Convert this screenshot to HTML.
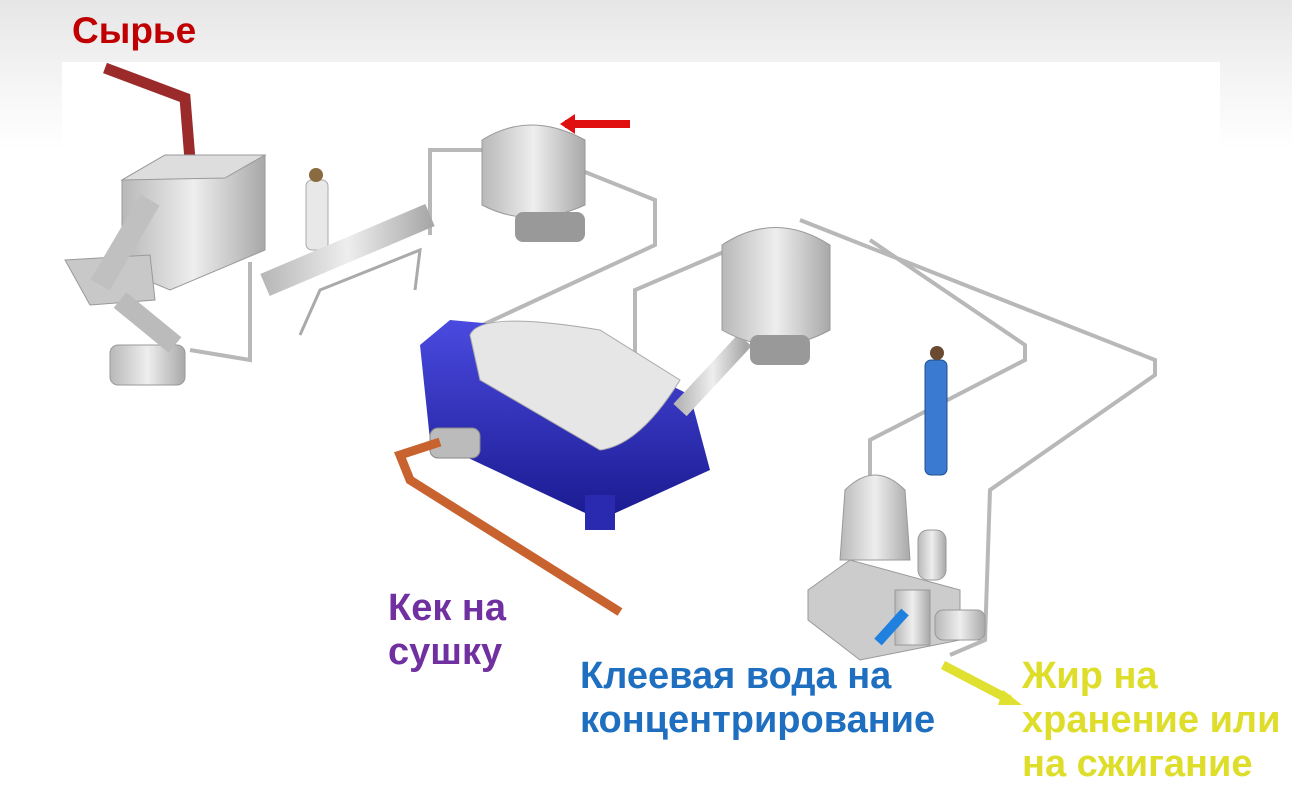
<!DOCTYPE html>
<html><head><meta charset="utf-8"><style>
html,body{margin:0;padding:0;}
body{width:1292px;height:772px;overflow:hidden;position:relative;background:#fff;font-family:"Liberation Sans",sans-serif;}
.bg{position:absolute;left:0;top:0;width:1292px;height:150px;background:linear-gradient(#e6e6e6,#f6f6f6 60%,#fff);}
.t{position:absolute;font-weight:bold;font-size:38px;line-height:44px;white-space:nowrap;}
</style></head><body>
<div class="bg"></div>
<svg style="position:absolute;left:0;top:0" width="1292" height="772">
<defs>
<linearGradient id="m" x1="0" x2="1"><stop offset="0" stop-color="#b8b8b8"/><stop offset=".5" stop-color="#eeeeee"/><stop offset="1" stop-color="#a8a8a8"/></linearGradient>
<linearGradient id="b" x1="0" y1="0" x2="0" y2="1"><stop offset="0" stop-color="#4a4ae0"/><stop offset="1" stop-color="#1a1a90"/></linearGradient>
</defs>
<rect x="62" y="62" width="1158" height="710" fill="#fff"/>
<g fill="none" stroke="#b8b8b8" stroke-width="4">
<path d="M250 262 L250 360 L190 350"/>
<path d="M430 235 L430 150 L500 150"/>
<path d="M580 170 L655 200 L655 245 L450 340"/>
<path d="M635 360 L635 290 L740 245"/>
<path d="M800 220 L1155 360 L1155 375 L990 490 L985 640 L950 655"/>
<path d="M870 240 L1025 345 L1025 360 L870 440 L870 480"/>
</g>
<path d="M105 68 L185 98 L190 160" fill="none" stroke="#9b2a2a" stroke-width="11"/>
<polygon points="180,158 202,158 193,175" fill="#9b2a2a"/>
<polygon points="122,180 165,155 265,155 265,250 170,290 122,270" fill="url(#m)" stroke="#999"/>
<polygon points="122,180 165,155 265,155 225,178" fill="#ddd" stroke="#999"/>
<polygon points="65,260 150,255 155,300 90,305" fill="#c8c8c8" stroke="#999"/>
<path d="M100 285 L150 200" stroke="#c0c0c0" stroke-width="22"/>
<rect x="110" y="345" width="75" height="40" rx="8" fill="url(#m)" stroke="#999"/>
<path d="M120 300 L175 345" stroke="#bbb" stroke-width="20"/>
<rect x="306" y="180" width="22" height="70" rx="6" fill="#e8e8e8" stroke="#aaa"/>
<circle cx="316" cy="175" r="7" fill="#8a6a40"/>
<path d="M265 285 L430 215" stroke="url(#m)" stroke-width="24"/>
<path d="M300 335 L320 290 L420 250 L415 290" fill="none" stroke="#aaa" stroke-width="3"/>
<path d="M482 140 Q530 110 585 140 L585 205 Q530 230 482 205 Z" fill="url(#m)" stroke="#999"/>
<rect x="515" y="212" width="70" height="30" rx="8" fill="#999"/>
<polygon points="565,120 630,120 630,128 565,128" fill="#e01010"/>
<polygon points="560,124 575,114 575,134" fill="#e01010"/>
<polygon points="420,345 450,320 560,330 690,395 710,470 600,520 430,440" fill="url(#b)"/>
<path d="M470 335 Q480 310 600 330 L680 380 Q640 445 600 450 L480 380 Z" fill="#e6e6e6" stroke="#aaa"/>
<rect x="585" y="495" width="30" height="35" fill="#2a2ab0"/>
<path d="M680 410 L745 340" stroke="url(#m)" stroke-width="18"/>
<rect x="430" y="428" width="50" height="30" rx="8" fill="#bbb" stroke="#888"/>
<path d="M440 442 L400 455 L410 480 L620 612" fill="none" stroke="#c8622e" stroke-width="9"/>
<path d="M722 245 Q775 210 830 245 L830 330 Q775 360 722 330 Z" fill="url(#m)" stroke="#999"/>
<rect x="750" y="335" width="60" height="30" rx="8" fill="#999"/>
<rect x="925" y="360" width="22" height="115" rx="6" fill="#3a7ad0" stroke="#1f4f90"/>
<circle cx="937" cy="353" r="7" fill="#6a4a30"/>
<path d="M845 490 Q875 460 905 490 L910 560 L840 560 Z" fill="url(#m)" stroke="#999"/>
<polygon points="808,590 850,560 960,590 960,640 860,660 808,620" fill="#ccc" stroke="#999"/>
<rect x="918" y="530" width="28" height="50" rx="10" fill="url(#m)" stroke="#999"/>
<rect x="895" y="590" width="35" height="55" fill="url(#m)" stroke="#999"/>
<rect x="935" y="610" width="50" height="30" rx="8" fill="url(#m)" stroke="#999"/>
<path d="M905 612 L878 642" stroke="#1f80e0" stroke-width="10"/>
<path d="M943 665 L1010 700" stroke="#e0e030" stroke-width="9"/>
<polygon points="1003,690 1022,705 998,705" fill="#e0e030"/>
</svg>
<div class="t" style="left:72px;top:9px;color:#c00000;font-size:37px">Сырье</div>
<div class="t" style="left:388px;top:586px;color:#7030a0;">Кек на<br>сушку</div>
<div class="t" style="left:580px;top:654px;color:#1f6fc0;">Клеевая вода на<br>концентрирование</div>
<div class="t" style="left:1022px;top:654px;color:#dede2a;">Жир на<br>хранение или<br>на сжигание</div>
</body></html>
